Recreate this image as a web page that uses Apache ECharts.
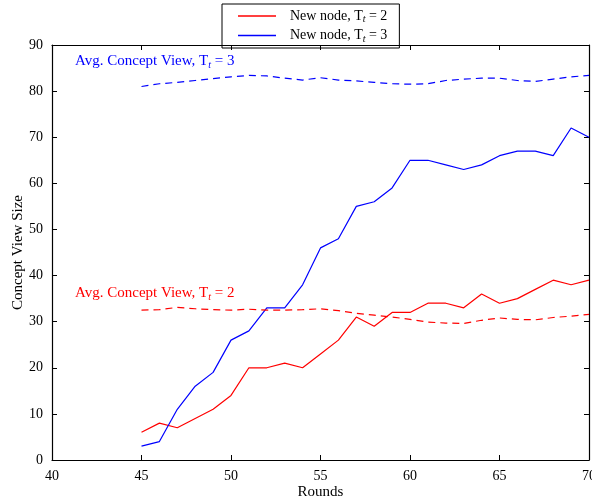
<!DOCTYPE html>
<html>
<head>
<meta charset="utf-8">
<script src="https://cdn.jsdelivr.net/npm/echarts@6/dist/echarts.min.js"></script>
<style>
  html, body { margin: 0; padding: 0; background: #fff; }
  #main { width: 592px; height: 502px; }
</style>
</head>
<body>
<div id="main"></div>
<script>
  const rounds = [45, 46, 47, 48, 49, 50, 51, 52, 53, 54, 55, 56, 57, 58, 59, 60, 61, 62, 63, 64, 65, 66, 67, 68, 69, 70];
  const newNodeT2 = [6, 8, 7, 9, 11, 14, 20, 20, 21, 20, 23, 26, 31, 29, 32, 32, 34, 34, 33, 36, 34, 35, 37, 39, 38, 39];
  const newNodeT3 = [3, 4, 11, 16, 19, 26, 28, 33, 33, 38, 46, 48, 55, 56, 59, 65, 65, 64, 63, 64, 66, 67, 67, 66, 72, 70];
  const avgT2 = [32.5, 32.6, 33.1, 32.8, 32.6, 32.5, 32.7, 32.5, 32.5, 32.6, 32.8, 32.4, 31.8, 31.4, 31.0, 30.5, 29.9, 29.7, 29.6, 30.3, 30.8, 30.5, 30.4, 30.9, 31.2, 31.6];
  const avgT3 = [81.0, 81.6, 81.9, 82.3, 82.7, 83.1, 83.4, 83.3, 82.8, 82.4, 82.9, 82.4, 82.2, 81.9, 81.6, 81.5, 81.6, 82.3, 82.6, 82.8, 82.8, 82.3, 82.1, 82.6, 83.1, 83.4];
  const xTicks = { min: 40, max: 70, interval: 5 };
  const yTicks = { min: 0, max: 90, interval: 10 };

  const font = 'Liberation Serif';
  const zip = (xs, ys) => xs.map((x, i) => [x, ys[i]]);

  const sub = { fontSize: 10, fontFamily: font, fontStyle: 'italic', padding: [7, 0, 0, 0] };

  function lineSeries(name, data, color, dashed) {
    return {
      name: name,
      type: 'line',
      data: zip(rounds, data),
      symbol: 'none',
      showSymbol: false,
      silent: true,
      lineStyle: { color: color, width: 1.2, type: dashed ? [7, 5] : 'solid' },
      itemStyle: { color: color }
    };
  }

  const frameAxis = {
    axisLine: { show: true, onZero: false, lineStyle: { color: '#000', width: 1.2 } },
    axisTick: { show: true, inside: true, length: 5, lineStyle: { color: '#000' } },
    splitLine: { show: false }
  };

  const chart = echarts.init(document.getElementById('main'));
  chart.setOption({
    animation: false,
    grid: { left: 52, right: 3, top: 45, bottom: 42, outerBoundsMode: 'none', containLabel: false },
    legend: {
      data: ['New node, T_t = 2', 'New node, T_t = 3'],
      orient: 'vertical',
      left: 222,
      top: 4,
      padding: [5, 12, 4, 16],
      itemGap: 4,
      icon: 'rect',
      itemWidth: 38,
      itemHeight: 1.5,
      borderColor: '#000',
      borderWidth: 1,
      borderRadius: 0,
      textStyle: {
        fontFamily: font,
        fontSize: 14,
        color: '#000',
        padding: [0, 0, 0, 9],
        rich: { n: { fontFamily: font, fontSize: 14 }, s: sub }
      },
      formatter: function (name) {
        const parts = name.split('T_t');
        return '{n|' + parts[0] + 'T}{s|t}{n|' + parts[1] + '}';
      }
    },
    xAxis: [
      Object.assign({
        type: 'value', position: 'bottom',
        min: xTicks.min, max: xTicks.max, interval: xTicks.interval,
        name: 'Rounds', nameLocation: 'middle', nameGap: 25, nameMoveOverlap: false,
        nameTextStyle: { fontFamily: font, fontSize: 15, color: '#000' },
        axisLabel: { fontFamily: font, fontSize: 14, color: '#000', margin: 9 }
      }, frameAxis),
      Object.assign({
        type: 'value', position: 'top',
        min: xTicks.min, max: xTicks.max, interval: xTicks.interval,
        axisLabel: { show: false }
      }, frameAxis)
    ],
    yAxis: [
      Object.assign({
        type: 'value', position: 'left',
        min: yTicks.min, max: yTicks.max, interval: yTicks.interval,
        name: 'Concept View Size', nameLocation: 'middle', nameGap: 26, nameMoveOverlap: false,
        nameTextStyle: { fontFamily: font, fontSize: 15, color: '#000' },
        axisLabel: { fontFamily: font, fontSize: 14, color: '#000', margin: 9 }
      }, frameAxis),
      Object.assign({
        type: 'value', position: 'right',
        min: yTicks.min, max: yTicks.max, interval: yTicks.interval,
        axisLabel: { show: false }
      }, frameAxis)
    ],
    graphic: [
      {
        type: 'text', left: 75, top: 54,
        style: {
          text: '{n|Avg. Concept View, T}{s|t}{n| = 3}',
          fill: '#0000ff',
          rich: { n: { fontFamily: font, fontSize: 15, fill: '#0000ff' }, s: Object.assign({}, sub, { fill: '#0000ff' }) }
        }
      },
      {
        type: 'text', left: 75, top: 286,
        style: {
          text: '{n|Avg. Concept View, T}{s|t}{n| = 2}',
          fill: '#ff0000',
          rich: { n: { fontFamily: font, fontSize: 15, fill: '#ff0000' }, s: Object.assign({}, sub, { fill: '#ff0000' }) }
        }
      }
    ],
    series: [
      lineSeries('New node, T_t = 2', newNodeT2, '#ff0000', false),
      lineSeries('New node, T_t = 3', newNodeT3, '#0000ff', false),
      lineSeries('avgT2', avgT2, '#ff0000', true),
      lineSeries('avgT3', avgT3, '#0000ff', true)
    ]
  });
</script>
</body>
</html>
